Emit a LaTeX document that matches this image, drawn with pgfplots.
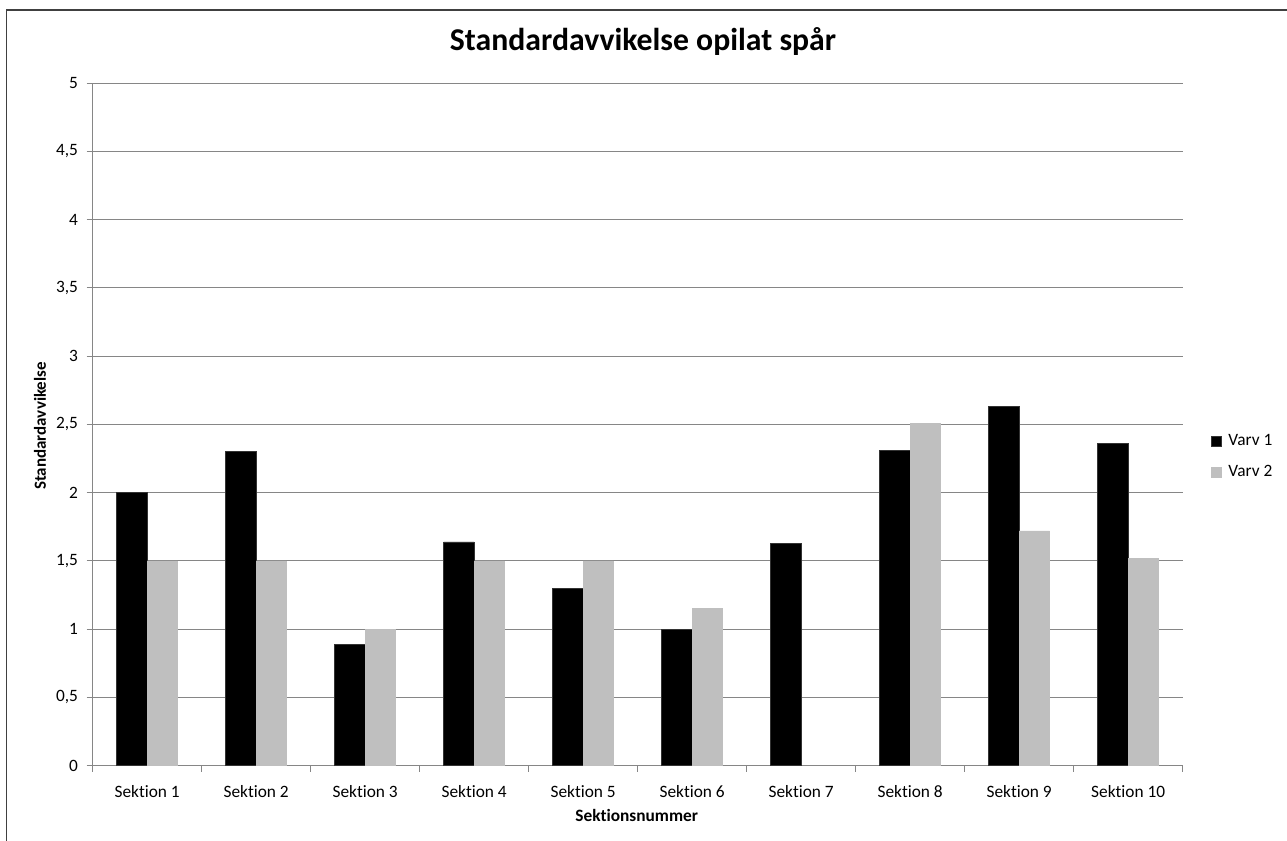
\documentclass[border=0pt]{standalone}
\usepackage{pgfplots}
\pgfplotsset{compat=1.18}
\usepackage{fontspec}
\setmainfont{Carlito}[Ligatures={NoCommon}]
\definecolor{gridc}{RGB}{134,134,134}
\definecolor{barg}{RGB}{191,191,191}
\definecolor{framec}{RGB}{64,64,64}
\begin{document}
\begin{tikzpicture}
\useasboundingbox (0,0) rectangle (965.25pt,630.75pt);
\draw[framec, line width=1.1pt] (4.9pt,0pt) -- (4.9pt,623.25pt) -- (965.25pt,623.25pt);
\begin{axis}[
  at={(69.5pt,56.5pt)}, anchor=south west,
  scale only axis, width=817.5pt, height=511.8pt,
  xmin=0.5, xmax=10.5, ymin=0, ymax=5,
  axis x line*=bottom, axis y line*=left,
  axis line style={gridc, line width=0.75pt},
  tick align=outside,
  xtick={1,...,10},
  xticklabels={Sektion 1,Sektion 2,Sektion 3,Sektion 4,Sektion 5,Sektion 6,Sektion 7,Sektion 8,Sektion 9,Sektion 10},
  minor xtick={0.5,1.5,...,10.5},
  major x tick style={draw=none},
  minor x tick style={gridc, line width=0.75pt},
  minor tick length=4.5pt,
  ytick={0,0.5,...,5},
  yticklabels={0,{0,5},1,{1,5},2,{2,5},3,{3,5},4,{4,5},5},
  y tick style={gridc, line width=0.75pt},
  major tick length=4.5pt,
  ymajorgrids, grid style={gridc, line width=0.75pt},
  ticklabel style={font=\fontsize{13}{15.6}\selectfont, text=black},
  xticklabel style={yshift=-6.5pt},
  yticklabel style={xshift=-3pt},
  /pgf/number format/assume math mode=true,
  ybar=0pt, bar width=22.9pt,
  legend style={draw=none, fill=none, at={(1.026,0.4528)}, anchor=west,
    font=\fontsize{13}{15.6}\selectfont, row sep=9pt, inner sep=0pt,
    /tikz/every odd column/.append style={column sep=3pt}},
  legend cell align=left,
  legend image code/.code={\fill[#1] (0pt,-3.75pt) rectangle (7.5pt,3.75pt);},
  clip=false,
]
\addplot[fill=black, draw=black!80, line width=0.4pt] coordinates {
  (1,2.0) (2,2.30) (3,0.89) (4,1.64) (5,1.30) (6,1.0) (7,1.63) (8,2.31) (9,2.63) (10,2.36)};
\addplot[fill=barg, draw=barg, line width=0.4pt] coordinates {
  (1,1.5) (2,1.5) (3,1.0) (4,1.5) (5,1.5) (6,1.15) (8,2.51) (9,1.72) (10,1.52)};
\legend{Varv 1, Varv 2}
\end{axis}
\node[anchor=base, font=\bfseries\fontsize{23.8}{28}\selectfont] at (482.25pt,592.5pt) {Standardavvikelse opilat spår};
\node[anchor=base, font=\bfseries\fontsize{13}{15.6}\selectfont] at (477.5pt,14.5pt) {Sektionsnummer};
\node[rotate=90, font=\bfseries\fontsize{12.7}{15}\selectfont] at (30pt,311.25pt) {Standardavvikelse};
\end{tikzpicture}
\end{document}
